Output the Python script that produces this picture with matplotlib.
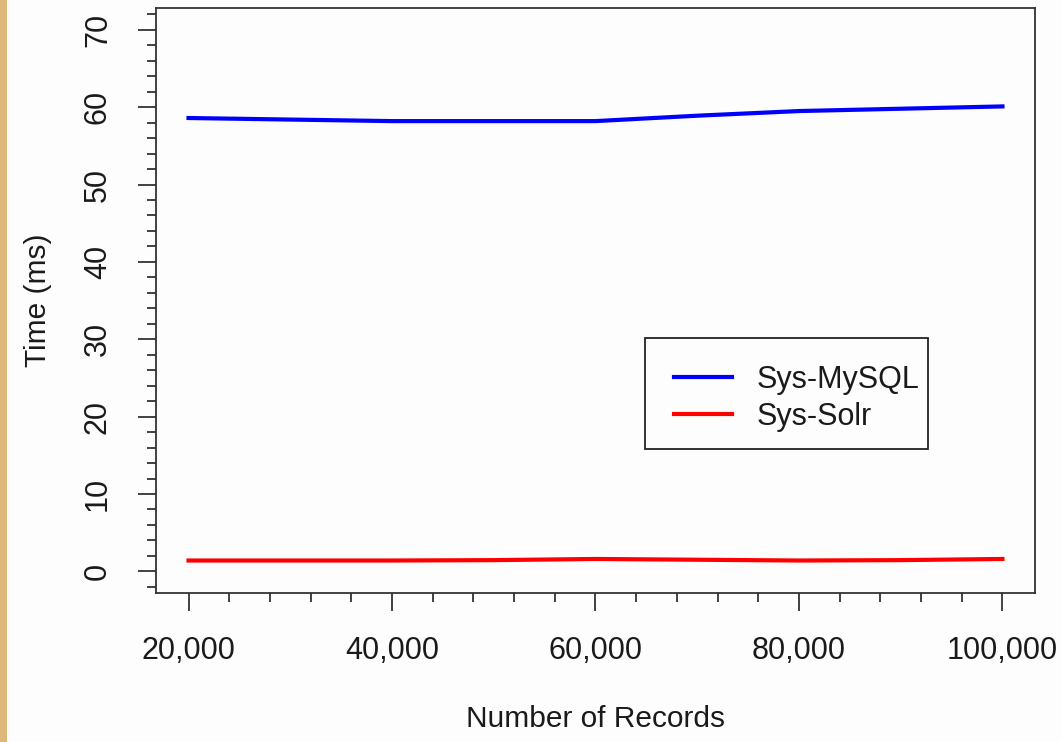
import matplotlib
matplotlib.use("Agg")
import matplotlib.pyplot as plt
from matplotlib.patches import Rectangle
from matplotlib.ticker import FixedLocator, FuncFormatter

plt.rcParams['font.family'] = ['Liberation Sans', 'DejaVu Sans']

records = [20000, 30000, 40000, 50000, 60000, 70000, 80000, 90000, 100000]
mysql_ms = [58.6, 58.4, 58.2, 58.2, 58.2, 58.9, 59.5, 59.8, 60.1]
solr_ms = [1.4, 1.4, 1.4, 1.45, 1.6, 1.5, 1.4, 1.45, 1.6]
x_ticks = [20000, 40000, 60000, 80000, 100000]
y_ticks = [0, 10, 20, 30, 40, 50, 60, 70]

fig = plt.figure(figsize=(10.61, 7.42), dpi=100)
fig.patch.set_facecolor('#fdfdfd')
# beige strip on the left edge
fig.patches.append(Rectangle((0, 0), 7 / 1061, 1, transform=fig.transFigure,
                             facecolor='#ddb878', edgecolor='none', zorder=0))

ax = fig.add_axes([0.147, 0.2008, 0.8285, 0.7882])
ax.set_facecolor('#fdfdfd')

ax.plot(records, mysql_ms, color='#0000ff', lw=3, label='Sys-MySQL')
ax.plot(records, solr_ms, color='#ff0000', lw=3, label='Sys-Solr')

ax.set_xlim(16800, 103200)
ax.set_ylim(-2.8, 72.8)

ax.xaxis.set_major_locator(FixedLocator(x_ticks))
ax.xaxis.set_minor_locator(FixedLocator(range(20000, 100001, 4000)))
ax.xaxis.set_major_formatter(FuncFormatter(lambda v, p: f"{int(v):,}"))
ax.yaxis.set_major_locator(FixedLocator(y_ticks))
ax.yaxis.set_minor_locator(FixedLocator(range(-2, 73, 2)))

ax.tick_params(which='major', length=13, width=1.3, color='#333333',
               labelsize=22, labelcolor='#1a1a1a', pad=18)
ax.tick_params(which='minor', length=6.5, width=1.3, color='#333333')
for lab in ax.get_yticklabels():
    lab.set_rotation(90)
    lab.set_va('center')

for s in ax.spines.values():
    s.set_color('#333333')
    s.set_linewidth(1.3)

ax.set_xlabel('Number of Records', fontsize=21.5, labelpad=28, color='#1a1a1a')
ax.set_ylabel('Time (ms)', fontsize=21.5, labelpad=22, color='#1a1a1a')

# legend box (R style, asymmetric padding)
ax.add_patch(Rectangle((0.5563, 0.2462), 0.322, 0.1897, transform=ax.transAxes,
                       facecolor='#fdfdfd', edgecolor='#222222', lw=1.3, zorder=4))
leg = ax.legend(loc='upper left', bbox_to_anchor=(0.589, 0.390), borderaxespad=0,
                frameon=False, fontsize=22,
                handlelength=1.9, handletextpad=0.8, labelspacing=0.22,
                borderpad=0)
leg.set_zorder(5)
for t in leg.get_texts():
    t.set_color('#1a1a1a')

fig.savefig('out.png', dpi=100, facecolor=fig.get_facecolor())
